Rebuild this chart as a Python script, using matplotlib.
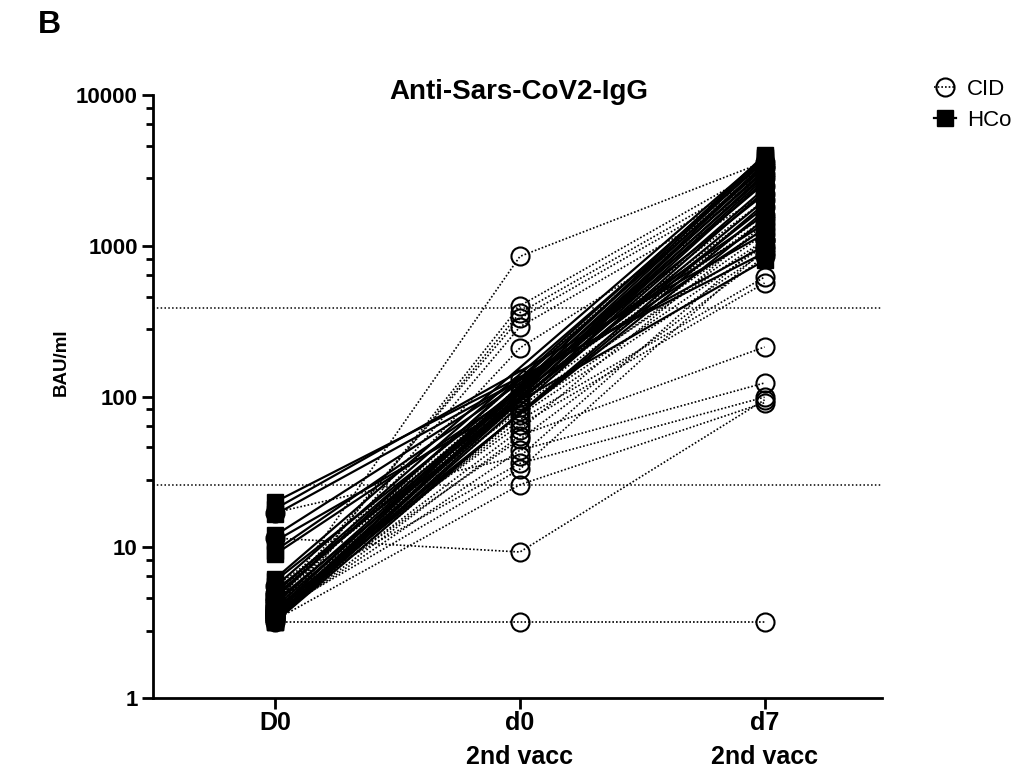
"""
Anti-Sars-CoV2-IgG titres over time, CID vs HCo (paired, log scale)
"""

import numpy as np
import matplotlib
matplotlib.use("Agg")
import matplotlib.pyplot as plt
from matplotlib.ticker import FixedLocator, NullFormatter

plt.rcParams["font.family"] = ["Liberation Sans", "DejaVu Sans"]

timepoints = ["D0", "d0\n2nd vacc", "d7\n2nd vacc"]

# CID patients (open circles, dotted lines), all three timepoints
cid_D0 = [4.0, 3.6, 3.8, 4.2, 3.5, 3.9, 4.5, 3.4, 4.8, 3.7, 5.0, 3.5, 4.1, 3.6,
          5.5, 3.3, 3.8, 4.4, 3.6, 3.4, 17.0, 3.9, 3.5, 4.6, 3.7, 3.3, 11.5, 3.2]
cid_d0 = [850, 400, 360, 330, 290, 210, 130, 120, 115, 105, 100, 95, 90, 85,
          80, 75, 70, 65, 60, 55, 40, 52, 44, 36, 33, 26, 9.3, 3.2]
cid_d7 = [3600, 3300, 3000, 2800, 2500, 2200, 3400, 2000, 1800, 1600, 1500, 1300, 1091, 1200,
          1000, 900, 620, 566, 1400, 213, 1100, 850, 123, 99, 950, 91, 95, 3.2]

# HCo controls (filled squares, solid lines), measured at D0 and d7 only
hco_D0 = [20, 18, 16.5, 12, 11, 9.5, 9, 6.2, 6, 5.5, 5.2, 5, 4.8, 4.6, 4.4,
          4.2, 4, 3.9, 3.8, 3.7, 3.6, 3.5, 3.5, 3.4, 3.4, 3.3, 3.3, 3.2, 3.2, 3.2]
hco_d7 = [900, 1200, 1000, 1400, 800, 1600, 1300, 3900, 2200, 3600, 1800, 3300, 2600, 3800, 2000,
          3100, 2900, 1500, 3700, 2400, 3500, 2800, 1700, 4000, 3200, 2300, 3000, 1900, 3400, 2700]

thresholds = [26, 385]

x = np.arange(len(timepoints))

fig = plt.figure(figsize=(10.18, 7.77), dpi=100)
ax = fig.add_axes([153 / 1018, 1 - 698 / 777, (882 - 153) / 1018, (698 - 95) / 777])

for t in thresholds:
    ax.axhline(t, color="black", lw=1.1, ls=(0, (1, 1.5)), zorder=1)

# CID first, HCo drawn on top
for a, b, c in zip(cid_D0, cid_d0, cid_d7):
    ax.plot(x, [a, b, c], color="black", lw=1.2, ls=(0, (1, 1.2)),
            marker="o", ms=13, mfc="none", mec="black", mew=1.5, zorder=2)

for a, c in zip(hco_D0, hco_d7):
    ax.plot([x[0], x[2]], [a, c], color="black", lw=1.6, ls="-",
            marker="s", ms=11, mfc="black", mec="black", zorder=3)

ax.set_yscale("log")
ax.set_ylim(1, 10000)
ax.set_xlim(-0.5, 2.48)

major = [1, 10, 100, 1000, 10000]
ax.yaxis.set_major_locator(FixedLocator(major))
ax.set_yticklabels(["1", "10", "100", "1000", "10000"])
minor = [d * m for d in [1, 10, 100, 1000] for m in [2.8, 4.6, 6.4, 8.2]]
ax.yaxis.set_minor_locator(FixedLocator(minor))
ax.yaxis.set_minor_formatter(NullFormatter())

ax.set_xticks(x)
ax.set_xticklabels(timepoints, fontsize=18, fontweight="bold", linespacing=1.55)
for lbl in ax.get_yticklabels():
    lbl.set_fontsize(16)
    lbl.set_fontweight("bold")

ax.spines["top"].set_visible(False)
ax.spines["right"].set_visible(False)
ax.spines["left"].set_linewidth(2)
ax.spines["bottom"].set_linewidth(2)
ax.tick_params(axis="y", which="major", direction="out", length=8, width=2, pad=3)
ax.tick_params(axis="x", which="major", direction="out", length=8, width=2, pad=1)
ax.tick_params(axis="y", which="minor", direction="out", length=5, width=2)

fig.text(519 / 1018, 1 - 92 / 777, "Anti-Sars-CoV2-IgG", ha="center", va="center",
         fontsize=20, fontweight="bold")
fig.text(61 / 1018, 1 - 362 / 777, "BAU/ml", rotation=90, ha="center", va="center",
         fontsize=13.5, fontweight="bold")
fig.text(38 / 1018, 1 - 25 / 777, "B", ha="left", va="center", fontsize=23, fontweight="bold")

h_cid = plt.Line2D([], [], color="black", lw=1.2, ls=(0, (1, 1.2)), marker="o", ms=13,
                   mfc="none", mec="black", mew=1.5)
h_hco = plt.Line2D([], [], color="black", lw=1.6, marker="s", ms=11, mfc="black")
fig.legend([h_cid, h_hco], ["CID", "HCo"], loc="upper left",
           bbox_to_anchor=(925 / 1018, 1 - 70 / 777), frameon=False, fontsize=16,
           handlelength=1.0, handletextpad=0.5, labelspacing=0.45, borderaxespad=0)

fig.savefig("out.png", dpi=100)
